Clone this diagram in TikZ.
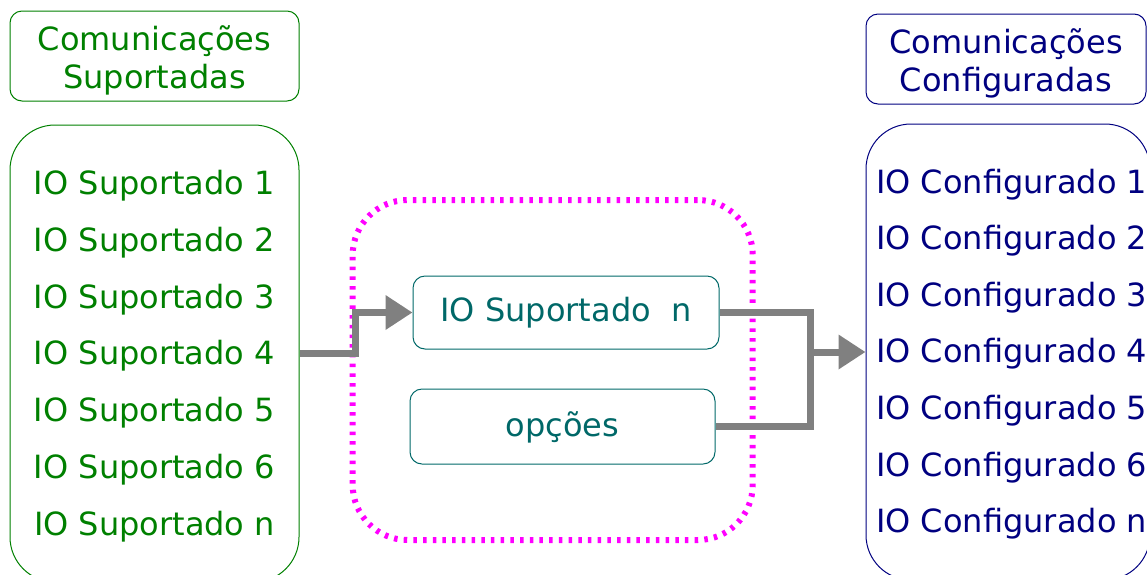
\documentclass[tikz,border=0pt]{standalone}
\usepackage{fontspec}
\setmainfont{DejaVu Sans}
\usetikzlibrary{arrows.meta}

\definecolor{verde}{RGB}{0,128,0}
\definecolor{azul}{RGB}{0,0,128}
\definecolor{petroleo}{RGB}{0,104,104}
\definecolor{cinza}{RGB}{128,128,128}
\definecolor{rosa}{RGB}{255,0,255}

\tikzset{
  caixa/.style={draw, line width=1pt, rounded corners=12pt, align=center, inner sep=0pt},
  lista/.style={draw, line width=1pt, rounded corners=45pt, inner sep=0pt},
  item/.style={inner sep=0pt, text height=23pt, text depth=0pt},
  fluxo/.style={draw=cinza, line width=7pt},
  seta/.style={fluxo, -{Triangle[length=27pt,width=33pt]}}
}

\begin{document}
\begin{tikzpicture}[x=1pt,y=-1pt,font=\fontsize{32}{38}\selectfont]
\useasboundingbox (0,0) rectangle (1147,574);

%Titulos
\node[caixa, draw=verde, text=verde, minimum width=289pt, minimum height=90pt] (tsup) at (154.5,56) {\\[-4pt]Comunicações\\Suportadas};
\node[caixa, draw=azul, text=azul, minimum width=280pt, minimum height=90pt] (tconf) at (1006,59) {\\[-4pt]Comunicações\\Configuradas};

%Listas
\node[lista, draw=verde, minimum width=289pt, minimum height=457pt] (sup) at (154.5,353.5) {};
\node[lista, draw=azul, minimum width=284pt, minimum height=456pt] (conf) at (1008,352) {};

\foreach \i/\t in {1/1,2/2,3/3,4/4,5/5,6/6,7/n}
  \node[item, text=verde] (s\i) at ({154.5},{183+56.8*(\i-1)}) {IO Suportado \t};
\foreach \i/\t in {1/1,2/2,3/3,4/4,5/5,6/6,7/n}
  \node[item, text=azul, anchor=west] (c\i) at ({876},{181.5+56.6*(\i-1)}) {IO Configurado \t};

%Grupo pontilhado
\node[draw=rosa, line width=6pt, dash pattern=on 3.5pt off 6.2pt, rounded corners=55pt,
  minimum width=400pt, minimum height=340pt] (grupo) at (552.7,370) {};

%Opcoes
\node[caixa, draw=petroleo, text=petroleo, minimum width=306pt, minimum height=73pt] (ion) at (566,312.5) {IO Suportado~ n};
\node[caixa, draw=petroleo, text=petroleo, minimum width=305pt, minimum height=75pt, text depth=4pt] (opc) at (562.5,426.5) {opções};

%Fluxo
\coordinate (junta) at (810,352);
\draw[seta] (sup.east) -- ++(56,0) |- (ion.west);
\draw[fluxo] (ion.east) -| (junta) |- (opc.east);
\draw[seta] (junta) -- (conf.west);

\end{tikzpicture}
\end{document}
